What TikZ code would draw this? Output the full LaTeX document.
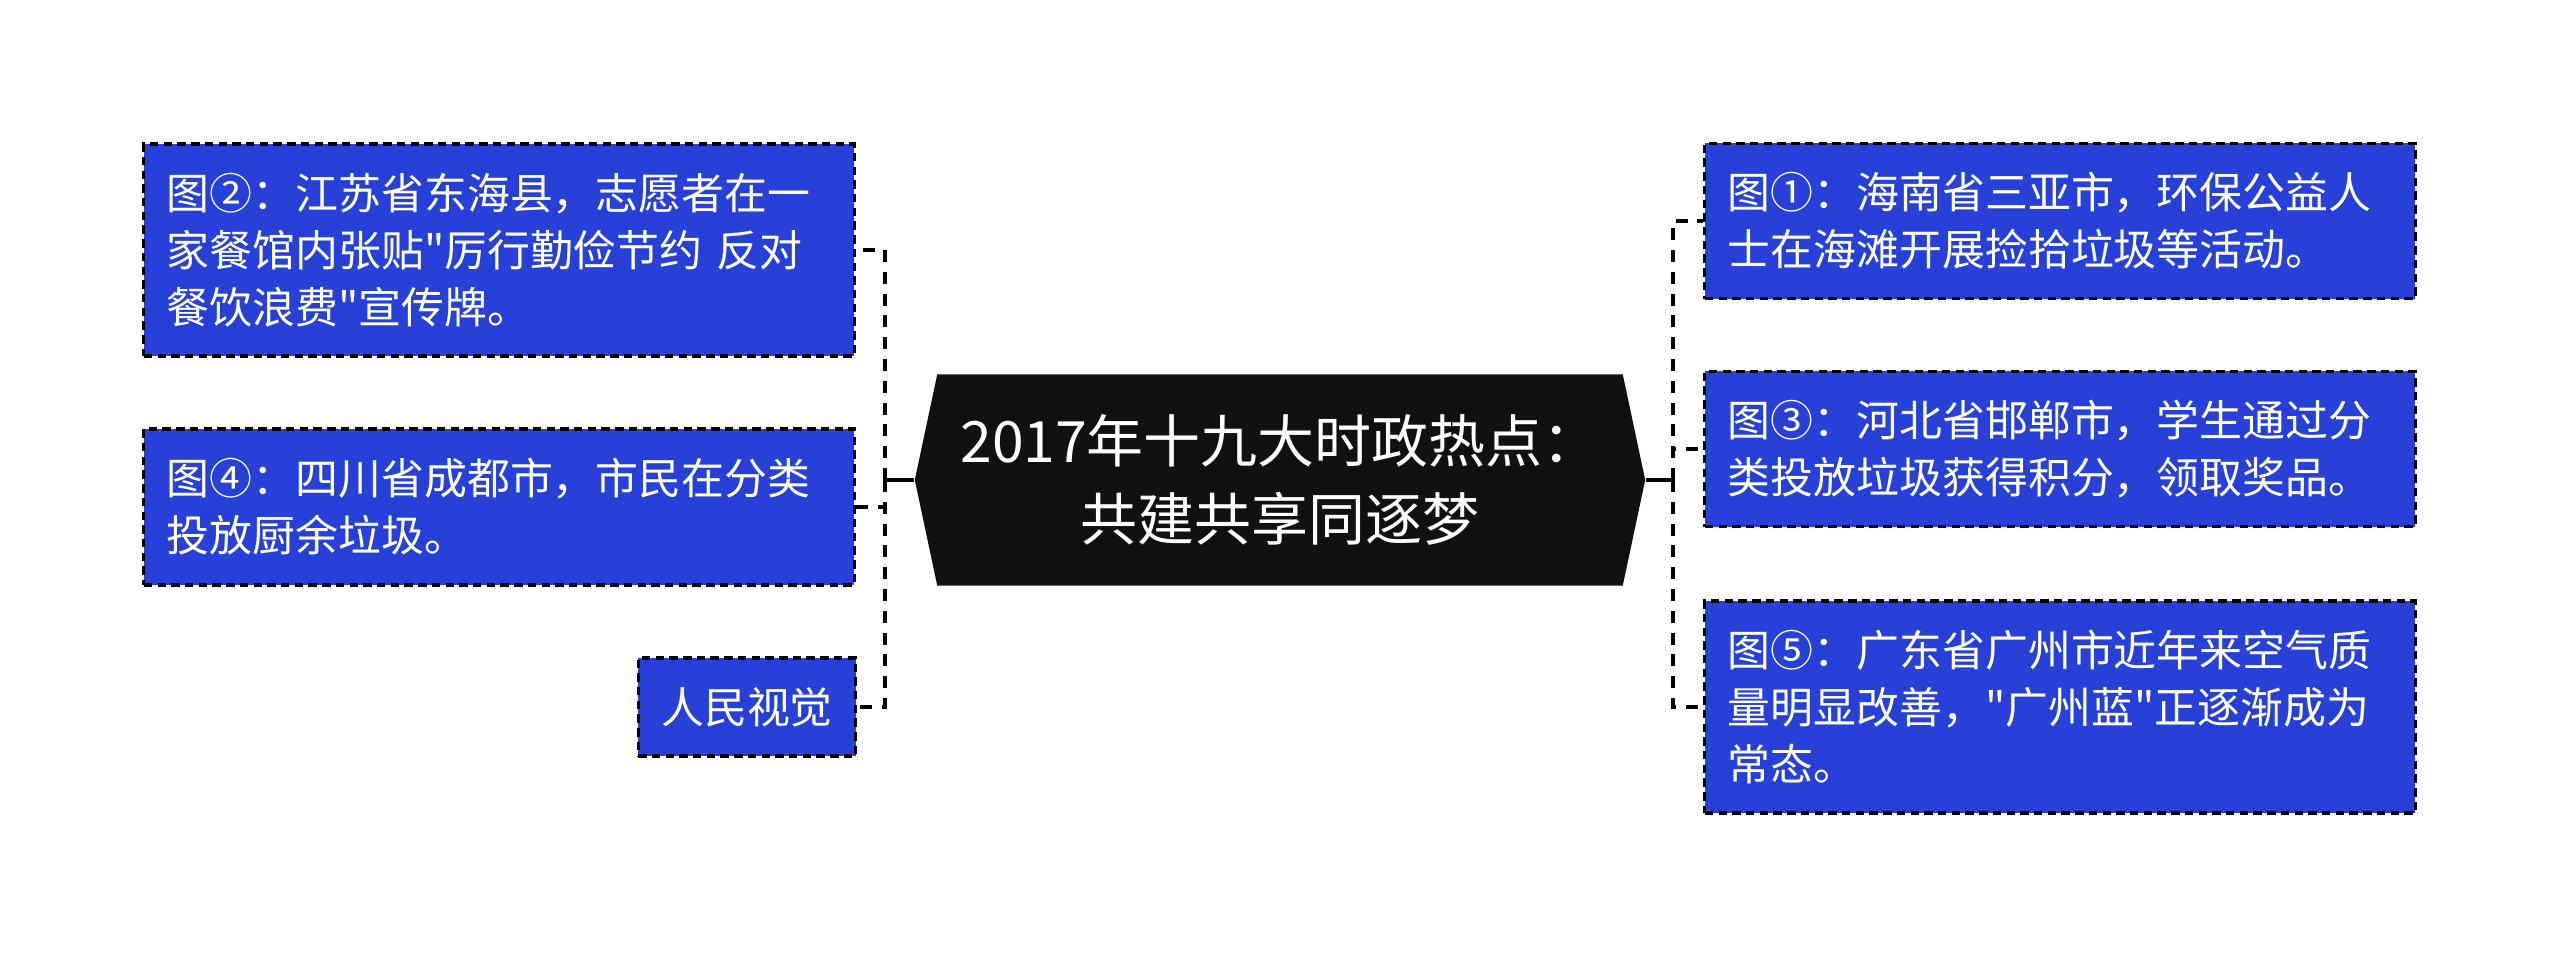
\documentclass[tikz,border=0pt]{standalone}
\usepackage{fontspec}
\setmainfont[Ligatures=TeXOff]{Noto Sans CJK SC}
\usetikzlibrary{shapes.symbols}

\definecolor{boxblue}{RGB}{39,64,216}
\definecolor{hubblack}{RGB}{17,17,17}

\tikzset{
  tipbox/.style={draw=black, fill=boxblue, text=white, line width=0.9pt,
    dash pattern=on 2.4pt off 1.5pt, inner xsep=0.23cm, align=left,
    font=\fontsize{12.2}{16.2}\selectfont},
  hubbox/.style={signal, signal to=east and west, signal pointer angle=156,
    fill=hubblack, text=white, align=center,
    font=\fontsize{16.2}{22}\selectfont},
  link/.style={line width=1.4pt, dash pattern=on 3.4pt off 2.8pt},
}

\begin{document}
\begin{tikzpicture}[x=0.01cm,y=-0.01cm]

	\useasboundingbox (0,0) rectangle (2560,960);

	\node (hub) [hubbox, minimum width=7.3cm, minimum height=2.11cm] at (1280,480)
	    {2017年十九大时政热点：\\共建共享同逐梦};

	% left side
	\node (fig2) [tipbox, text width=6.64cm, minimum height=2.12cm] at (499,250)
	    {图②：江苏省东海县，志愿者在一\\家餐馆内张贴"厉行勤俭节约 反对\\餐饮浪费"宣传牌。};
	\node (fig4) [tipbox, text width=6.64cm, minimum height=1.56cm] at (499,507)
	    {图④：四川省成都市，市民在分类\\投放厨余垃圾。};
	\node (credit) [tipbox, minimum width=2.14cm, minimum height=0.98cm] at (747,707)
	    {人民视觉};

	% right side
	\node (fig1) [tipbox, text width=6.64cm, minimum height=1.55cm] at (2060,221)
	    {图①：海南省三亚市，环保公益人\\士在海滩开展捡拾垃圾等活动。};
	\node (fig3) [tipbox, text width=6.64cm, minimum height=1.55cm] at (2060,449)
	    {图③：河北省邯郸市，学生通过分\\类投放垃圾获得积分，领取奖品。};
	\node (fig5) [tipbox, text width=6.64cm, minimum height=2.12cm] at (2060,707)
	    {图⑤：广东省广州市近年来空气质\\量明显改善，"广州蓝"正逐渐成为\\常态。};

	\coordinate (ltrunk) at (885,480);
	\coordinate (rtrunk) at (1673,480);

	\draw[line width=1.1pt] (hub.west) -- (ltrunk);
	\draw[line width=1.1pt] (hub.east) -- (rtrunk);

	\draw[link] (ltrunk) |- (fig2.east);
	\draw[link] (ltrunk) |- (fig4.east);
	\draw[link] (ltrunk) |- (credit.east);

	\draw[link] (rtrunk) |- (fig1.west);
	\draw[link] (rtrunk) |- (fig3.west);
	\draw[link] (rtrunk) |- (fig5.west);

\end{tikzpicture}
\end{document}
